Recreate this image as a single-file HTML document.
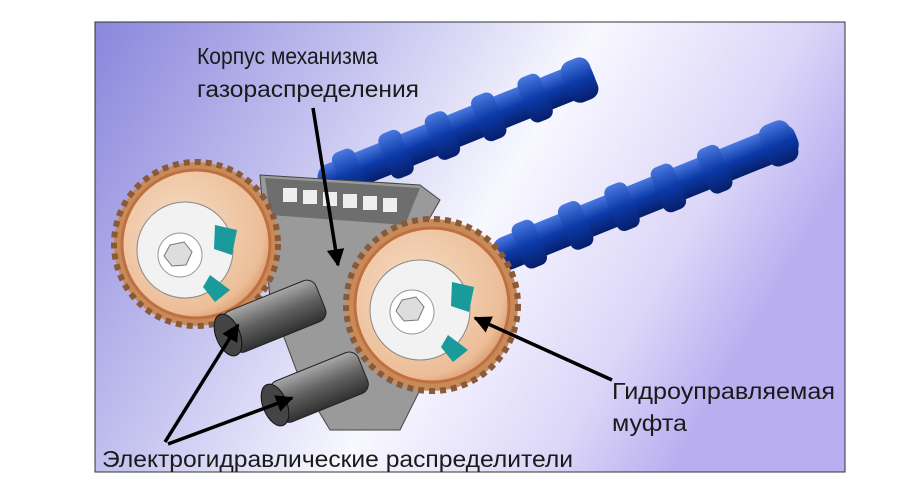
<!DOCTYPE html>
<html><head><meta charset="utf-8"><style>
html,body{margin:0;padding:0;background:#fff;width:911px;height:493px;overflow:hidden}
svg{display:block}
text{font-family:"Liberation Sans","DejaVu Sans",sans-serif;fill:#1a1a1a}
</style></head><body>
<svg width="911" height="493" viewBox="0 0 911 493">
<defs>
<linearGradient id="bg" x1="0" y1="0" x2="1" y2="0.35">
<stop offset="0" stop-color="#8a86dc"/>
<stop offset="0.35" stop-color="#c8c6f0"/>
<stop offset="0.6" stop-color="#f8f8ff"/>
<stop offset="0.85" stop-color="#dcd6f8"/>
<stop offset="1" stop-color="#b8aef0"/>
</linearGradient>
<linearGradient id="cam" x1="0" y1="0" x2="0" y2="1">
<stop offset="0" stop-color="#4a7ae0"/><stop offset="0.5" stop-color="#0c3aa8"/><stop offset="1" stop-color="#061e6a"/>
</linearGradient>
<radialGradient id="gear" cx="0.4" cy="0.4" r="0.7">
<stop offset="0" stop-color="#f6dcc4"/><stop offset="0.8" stop-color="#ecbe98"/><stop offset="1" stop-color="#d08a58"/>
</radialGradient>
<linearGradient id="sol" x1="0" y1="0" x2="0" y2="1">
<stop offset="0" stop-color="#a8a8a8"/><stop offset="0.5" stop-color="#606060"/><stop offset="1" stop-color="#303030"/>
</linearGradient>
<marker id="ah" viewBox="0 0 10 10" refX="9" refY="5" markerWidth="5" markerHeight="5" orient="auto"><path d="M0,0L10,5L0,10z" fill="#000"/></marker>
</defs>
<rect x="95" y="22" width="750" height="450" fill="url(#bg)" stroke="#333" stroke-width="1"/>
<g transform="translate(320,185) rotate(-22)">
<rect x="0" y="-17" width="295" height="34" rx="13" fill="url(#cam)"/>
<g fill="url(#cam)"><rect x="20" y="-24" width="24" height="48" rx="8"/><rect x="70" y="-24" width="24" height="48" rx="8"/><rect x="120" y="-24" width="24" height="48" rx="8"/><rect x="170" y="-24" width="24" height="48" rx="8"/><rect x="220" y="-24" width="24" height="48" rx="8"/><rect x="265" y="-22" width="30" height="44" rx="11"/></g>
</g>
<g transform="translate(495,258) rotate(-22)">
<rect x="0" y="-17" width="325" height="34" rx="13" fill="url(#cam)"/>
<g fill="url(#cam)"><rect x="25" y="-24" width="24" height="48" rx="8"/><rect x="75" y="-24" width="24" height="48" rx="8"/><rect x="125" y="-24" width="24" height="48" rx="8"/><rect x="175" y="-24" width="24" height="48" rx="8"/><rect x="225" y="-24" width="24" height="48" rx="8"/><rect x="290" y="-22" width="32" height="44" rx="11"/></g>
</g>
<path d="M260,175 L420,185 L440,200 L420,235 L370,300 L390,360 L420,390 L400,430 L330,430 L300,380 L270,300 Z" fill="#9a9a9a" stroke="#444"/>
<path d="M265,178 L420,188 L405,225 L270,215 Z" fill="#6e6e6e"/>
<g fill="#eee"><rect x="283" y="188" width="14" height="14"/><rect x="303" y="190" width="14" height="14"/><rect x="323" y="192" width="14" height="14"/><rect x="343" y="194" width="14" height="14"/><rect x="363" y="196" width="14" height="14"/><rect x="383" y="198" width="14" height="14"/></g>
<circle cx="196" cy="244" r="82" fill="#c98a5a" stroke="#8a5a38" stroke-dasharray="6 5" stroke-width="6"/>
<circle cx="196" cy="244" r="74" fill="url(#gear)" stroke="#c07040" stroke-width="3"/>
<circle cx="185" cy="250" r="48" fill="#f2f2f2" stroke="#888"/>
<path d="M215,225 l22,5 l-5,25 l-18,-6z M210,275 l20,15 l-15,12 l-12,-15z" fill="#1a9a9a"/>
<circle cx="180" cy="255" r="22" fill="#fff" stroke="#999"/>
<polygon points="170,245 184,242 192,252 186,265 172,266 164,256" fill="#ddd" stroke="#777"/>
<g transform="translate(228,335) rotate(-22)">
<rect x="0" y="-22" width="100" height="44" rx="10" fill="url(#sol)" stroke="#222"/>
<ellipse cx="0" cy="0" rx="12" ry="22" fill="#444" stroke="#111"/>
</g>
<g transform="translate(275,405) rotate(-22)">
<rect x="0" y="-22" width="95" height="44" rx="10" fill="url(#sol)" stroke="#222"/>
<ellipse cx="0" cy="0" rx="12" ry="22" fill="#444" stroke="#111"/>
</g>
<circle cx="432" cy="305" r="86" fill="#c98a5a" stroke="#8a5a38" stroke-dasharray="6 5" stroke-width="6"/>
<circle cx="432" cy="305" r="77" fill="url(#gear)" stroke="#c07040" stroke-width="3"/>
<circle cx="420" cy="310" r="50" fill="#f2f2f2" stroke="#888"/>
<path d="M452,282 l22,5 l-5,25 l-18,-6z M448,335 l20,15 l-15,12 l-12,-15z" fill="#1a9a9a"/>
<circle cx="412" cy="312" r="22" fill="#fff" stroke="#999"/>
<polygon points="402,300 416,297 424,307 418,320 404,321 396,311" fill="#ddd" stroke="#777"/>
<g stroke="#000" stroke-width="3.5" fill="none" marker-end="url(#ah)">
<line x1="313" y1="108" x2="338" y2="265"/>
<line x1="612" y1="380" x2="475" y2="318"/>
<line x1="165" y1="442" x2="238" y2="325"/>
<line x1="168" y1="444" x2="292" y2="398"/>
</g>
<text x="197" y="64" font-size="23" textLength="181" lengthAdjust="spacingAndGlyphs">Корпус механизма</text>
<text x="197" y="97" font-size="23" textLength="222" lengthAdjust="spacingAndGlyphs">газораспределения</text>
<text x="612" y="399" font-size="23" textLength="223" lengthAdjust="spacingAndGlyphs">Гидроуправляемая</text>
<text x="612" y="431" font-size="23" textLength="75" lengthAdjust="spacingAndGlyphs">муфта</text>
<text x="102" y="467" font-size="23" textLength="471" lengthAdjust="spacingAndGlyphs">Электрогидравлические распределители</text>
</svg>
</body></html>
